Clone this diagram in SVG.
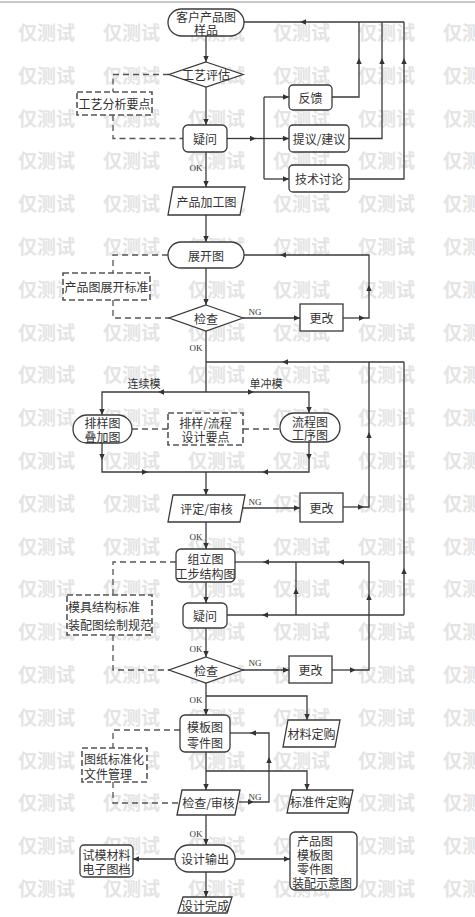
<svg xmlns="http://www.w3.org/2000/svg" width="475" height="917" viewBox="0 0 475 917">
<defs>
<marker id="ah" viewBox="0 0 10 10" refX="10" refY="5" markerWidth="7" markerHeight="6" orient="auto" markerUnits="userSpaceOnUse"><path d="M0,0.5 L10,5 L0,9.5 z" fill="#333"/></marker>
<style>
.ln{fill:none;stroke:#3a3a3a;stroke-width:1.3}
.ar{marker-end:url(#ah)}
.ds{fill:none;stroke:#555;stroke-width:1.3;stroke-dasharray:6 4}
.nd{fill:#fff;stroke:#3a3a3a;stroke-width:1.3}
.db{fill:#fff;stroke:#555;stroke-width:1.6;stroke-dasharray:6 3}
.t{font-family:"Noto Sans CJK SC","Noto Sans",sans-serif;font-size:12px;fill:#333;text-anchor:middle;dominant-baseline:central}
.tl{font-family:"Noto Sans CJK SC","Noto Sans",sans-serif;font-size:12px;fill:#333;dominant-baseline:central}
.s{font-family:"Liberation Serif",serif;font-size:9px;fill:#333;text-anchor:middle}
.wm{font-family:"Noto Sans CJK SC",sans-serif;font-size:19px;font-weight:bold;fill:#e4e4e4}
</style>
</defs>
<rect x="0" y="0" width="475" height="917" fill="#fff"/>
<line x1="0" y1="2" x2="475" y2="2" stroke="#c8c8c8" stroke-width="2"/>
<g id="watermark">
<text class="wm" x="18" y="40">仅测试</text><text class="wm" x="103" y="40">仅测试</text><text class="wm" x="188" y="40">仅测试</text><text class="wm" x="273" y="40">仅测试</text><text class="wm" x="358" y="40">仅测试</text><text class="wm" x="443" y="40">仅测试</text>
<text class="wm" x="18" y="83">仅测试</text><text class="wm" x="103" y="83">仅测试</text><text class="wm" x="188" y="83">仅测试</text><text class="wm" x="273" y="83">仅测试</text><text class="wm" x="358" y="83">仅测试</text><text class="wm" x="443" y="83">仅测试</text>
<text class="wm" x="18" y="126">仅测试</text><text class="wm" x="103" y="126">仅测试</text><text class="wm" x="188" y="126">仅测试</text><text class="wm" x="273" y="126">仅测试</text><text class="wm" x="358" y="126">仅测试</text><text class="wm" x="443" y="126">仅测试</text>
<text class="wm" x="18" y="168">仅测试</text><text class="wm" x="103" y="168">仅测试</text><text class="wm" x="188" y="168">仅测试</text><text class="wm" x="273" y="168">仅测试</text><text class="wm" x="358" y="168">仅测试</text><text class="wm" x="443" y="168">仅测试</text>
<text class="wm" x="18" y="211">仅测试</text><text class="wm" x="103" y="211">仅测试</text><text class="wm" x="188" y="211">仅测试</text><text class="wm" x="273" y="211">仅测试</text><text class="wm" x="358" y="211">仅测试</text><text class="wm" x="443" y="211">仅测试</text>
<text class="wm" x="18" y="254">仅测试</text><text class="wm" x="103" y="254">仅测试</text><text class="wm" x="188" y="254">仅测试</text><text class="wm" x="273" y="254">仅测试</text><text class="wm" x="358" y="254">仅测试</text><text class="wm" x="443" y="254">仅测试</text>
<text class="wm" x="18" y="297">仅测试</text><text class="wm" x="103" y="297">仅测试</text><text class="wm" x="188" y="297">仅测试</text><text class="wm" x="273" y="297">仅测试</text><text class="wm" x="358" y="297">仅测试</text><text class="wm" x="443" y="297">仅测试</text>
<text class="wm" x="18" y="340">仅测试</text><text class="wm" x="103" y="340">仅测试</text><text class="wm" x="188" y="340">仅测试</text><text class="wm" x="273" y="340">仅测试</text><text class="wm" x="358" y="340">仅测试</text><text class="wm" x="443" y="340">仅测试</text>
<text class="wm" x="18" y="382">仅测试</text><text class="wm" x="103" y="382">仅测试</text><text class="wm" x="188" y="382">仅测试</text><text class="wm" x="273" y="382">仅测试</text><text class="wm" x="358" y="382">仅测试</text><text class="wm" x="443" y="382">仅测试</text>
<text class="wm" x="18" y="425">仅测试</text><text class="wm" x="103" y="425">仅测试</text><text class="wm" x="188" y="425">仅测试</text><text class="wm" x="273" y="425">仅测试</text><text class="wm" x="358" y="425">仅测试</text><text class="wm" x="443" y="425">仅测试</text>
<text class="wm" x="18" y="468">仅测试</text><text class="wm" x="103" y="468">仅测试</text><text class="wm" x="188" y="468">仅测试</text><text class="wm" x="273" y="468">仅测试</text><text class="wm" x="358" y="468">仅测试</text><text class="wm" x="443" y="468">仅测试</text>
<text class="wm" x="18" y="511">仅测试</text><text class="wm" x="103" y="511">仅测试</text><text class="wm" x="188" y="511">仅测试</text><text class="wm" x="273" y="511">仅测试</text><text class="wm" x="358" y="511">仅测试</text><text class="wm" x="443" y="511">仅测试</text>
<text class="wm" x="18" y="554">仅测试</text><text class="wm" x="103" y="554">仅测试</text><text class="wm" x="188" y="554">仅测试</text><text class="wm" x="273" y="554">仅测试</text><text class="wm" x="358" y="554">仅测试</text><text class="wm" x="443" y="554">仅测试</text>
<text class="wm" x="18" y="596">仅测试</text><text class="wm" x="103" y="596">仅测试</text><text class="wm" x="188" y="596">仅测试</text><text class="wm" x="273" y="596">仅测试</text><text class="wm" x="358" y="596">仅测试</text><text class="wm" x="443" y="596">仅测试</text>
<text class="wm" x="18" y="639">仅测试</text><text class="wm" x="103" y="639">仅测试</text><text class="wm" x="188" y="639">仅测试</text><text class="wm" x="273" y="639">仅测试</text><text class="wm" x="358" y="639">仅测试</text><text class="wm" x="443" y="639">仅测试</text>
<text class="wm" x="18" y="682">仅测试</text><text class="wm" x="103" y="682">仅测试</text><text class="wm" x="188" y="682">仅测试</text><text class="wm" x="273" y="682">仅测试</text><text class="wm" x="358" y="682">仅测试</text><text class="wm" x="443" y="682">仅测试</text>
<text class="wm" x="18" y="725">仅测试</text><text class="wm" x="103" y="725">仅测试</text><text class="wm" x="188" y="725">仅测试</text><text class="wm" x="273" y="725">仅测试</text><text class="wm" x="358" y="725">仅测试</text><text class="wm" x="443" y="725">仅测试</text>
<text class="wm" x="18" y="768">仅测试</text><text class="wm" x="103" y="768">仅测试</text><text class="wm" x="188" y="768">仅测试</text><text class="wm" x="273" y="768">仅测试</text><text class="wm" x="358" y="768">仅测试</text><text class="wm" x="443" y="768">仅测试</text>
<text class="wm" x="18" y="810">仅测试</text><text class="wm" x="103" y="810">仅测试</text><text class="wm" x="188" y="810">仅测试</text><text class="wm" x="273" y="810">仅测试</text><text class="wm" x="358" y="810">仅测试</text><text class="wm" x="443" y="810">仅测试</text>
<text class="wm" x="18" y="853">仅测试</text><text class="wm" x="103" y="853">仅测试</text><text class="wm" x="188" y="853">仅测试</text><text class="wm" x="273" y="853">仅测试</text><text class="wm" x="358" y="853">仅测试</text><text class="wm" x="443" y="853">仅测试</text>
<text class="wm" x="18" y="896">仅测试</text><text class="wm" x="103" y="896">仅测试</text><text class="wm" x="188" y="896">仅测试</text><text class="wm" x="273" y="896">仅测试</text><text class="wm" x="358" y="896">仅测试</text><text class="wm" x="443" y="896">仅测试</text>
</g>
<g id="connectors">
<path class="ln ar" d="M206,36 V62"/>
<path class="ln ar" d="M206,87 V125"/>
<path class="ln ar" d="M206,152 V187"/>
<path class="ln ar" d="M227,138.5 H256"/><path class="ln" d="M256,138.5 H264"/>
<path class="ln" d="M264,97 V179"/>
<path class="ln ar" d="M264,97 H289"/><path class="ln ar" d="M264,138.5 H289"/><path class="ln ar" d="M264,179 H289"/>
<path class="ln ar" d="M332,97 H359 V58"/><path class="ln" d="M359,58 V22"/>
<path class="ln ar" d="M349,138.5 H382 V58"/><path class="ln" d="M382,58 V22"/>
<path class="ln ar" d="M349,179 H404 V58"/><path class="ln" d="M404,58 V22"/>
<path class="ln ar" d="M404,22 H300"/><path class="ln" d="M300,22 H244"/>
<path class="ln ar" d="M206,215 V242"/>
<path class="ln ar" d="M206,268 V305"/>
<path class="ln ar" d="M243,318 H300"/>
<path class="ln ar" d="M343,318 H365"/><path class="ln ar" d="M365,318 H369 V285"/><path class="ln ar" d="M369,285 V255 H280"/><path class="ln" d="M280,255 H244"/>
<path class="ln" d="M206,331 V392"/>
<path class="ln ar" d="M404,362 H282"/><path class="ln" d="M282,362 H206"/>
<path class="ln ar" d="M206,392 H158"/><path class="ln ar" d="M158,392 H102 V415"/>
<path class="ln ar" d="M206,392 H254"/><path class="ln ar" d="M254,392 H309 V413"/>
<path class="ln ar" d="M102,443 V460"/><path class="ln ar" d="M102,460 V472 H148"/><path class="ln" d="M148,472 H206"/>
<path class="ln ar" d="M309,442 V460"/><path class="ln ar" d="M309,460 V472 H262"/><path class="ln" d="M262,472 H206"/>
<path class="ln ar" d="M206,472 V495"/>
<path class="ln ar" d="M243,508 H300"/>
<path class="ln ar" d="M343,507 H364"/><path class="ln ar" d="M364,507 H369 V432"/><path class="ln" d="M369,432 V362"/>
<path class="ln ar" d="M206,522 V549"/>
<path class="ln ar" d="M206,582 V603"/>
<path class="ln ar" d="M206,628 V657"/>
<path class="ln ar" d="M243,670 H289"/>
<path class="ln ar" d="M332,670 H356"/><path class="ln ar" d="M356,670 H369 V594"/><path class="ln ar" d="M369,594 V562 H338"/><path class="ln ar" d="M338,562 H263"/><path class="ln" d="M263,562 H235"/>
<path class="ln ar" d="M296,615 V588"/><path class="ln" d="M296,588 V562"/>
<path class="ln ar" d="M404,615 H262"/><path class="ln" d="M262,615 H227"/>
<path class="ln ar" d="M404,615 V568"/><path class="ln" d="M404,568 V362"/>
<path class="ln ar" d="M206,683 V715"/>
<path class="ln ar" d="M206,696 H307 V720"/>
<path class="ln ar" d="M206,752 V790"/>
<path class="ln ar" d="M206,771 H307 V790"/>
<path class="ln ar" d="M239,802 H254"/><path class="ln ar" d="M254,802 H269 V757"/><path class="ln ar" d="M269,757 V733 H250"/><path class="ln" d="M250,733 H230"/>
<path class="ln ar" d="M206,815 V845"/>
<path class="ln ar" d="M175,859 H133"/>
<path class="ln ar" d="M235,859 H290"/>
<path class="ln ar" d="M206,872 V897"/>
<path class="ds" d="M169,74.5 H113 V92"/>
<path class="ds" d="M113,115 V138.5 H183"/>
<path class="ds" d="M168,255 H113 V273"/>
<path class="ds" d="M113,300 V318 H169"/>
<path class="ds" d="M132,429 H168"/>
<path class="ds" d="M243,429 H280"/>
<path class="ds" d="M176,562 H113 V595"/>
<path class="ds" d="M113,635 V670 H169"/>
<path class="ds" d="M180,730 H113 V748"/>
<path class="ds" d="M113,782 V803 H179"/>
<text class="s" x="196" y="171">OK</text>
<text class="s" x="196" y="351">OK</text>
<text class="s" x="196" y="540">OK</text>
<text class="s" x="196" y="652">OK</text>
<text class="s" x="196" y="703">OK</text>
<text class="s" x="196" y="837">OK</text>
<text class="s" x="255" y="315">NG</text>
<text class="s" x="255" y="505">NG</text>
<text class="s" x="255" y="666">NG</text>
<text class="s" x="255" y="800">NG</text>
<text class="t" x="144" y="383" style="font-size:11px">连续模</text>
<text class="t" x="266" y="383" style="font-size:11px">单冲模</text>
</g>
<g id="n-customer"><rect class="nd" x="168" y="9" width="76" height="27" rx="13.5"/><text class="t" x="206" y="16.5">客户产品图</text><text class="t" x="206" y="29">样品</text></g>
<g id="n-eval"><polygon class="nd" points="206,62 243,74.5 206,87 169,74.5"/><text class="t" x="206" y="74.5">工艺评估</text></g>
<g id="n-keypoints"><rect class="db" x="77" y="92" width="75" height="23"/><text class="t" x="114.5" y="103.5">工艺分析要点</text></g>
<g id="n-question1"><rect class="nd" x="183" y="125" width="44" height="27" rx="5"/><text class="t" x="205" y="138.5">疑问</text></g>
<g id="n-feedback"><rect class="nd" x="289" y="85" width="43" height="25" rx="4"/><text class="t" x="310.5" y="97.5">反馈</text></g>
<g id="n-suggest"><rect class="nd" x="289" y="125" width="60" height="27" rx="4"/><text class="t" x="319" y="138.5">提议/建议</text></g>
<g id="n-discuss"><rect class="nd" x="289" y="165" width="60" height="27" rx="4"/><text class="t" x="319" y="178.5">技术讨论</text></g>
<g id="n-procdraw"><polygon class="nd" points="173,187 245,187 240,215 168,215"/><text class="t" x="206.5" y="201">产品加工图</text></g>
<g id="n-unfold"><rect class="nd" x="168" y="242" width="76" height="26" rx="13"/><text class="t" x="206" y="255">展开图</text></g>
<g id="n-unfoldstd"><rect class="db" x="63" y="273" width="87" height="27"/><text class="t" x="106.5" y="286.5">产品图展开标准</text></g>
<g id="n-check1"><polygon class="nd" points="206,305 243,318 206,331 169,318"/><text class="t" x="206" y="318">检查</text></g>
<g id="n-modify1"><rect class="nd" x="300" y="304" width="43" height="27"/><text class="t" x="321.5" y="317.5">更改</text></g>
<g id="n-layout"><rect class="nd" x="73" y="415" width="59" height="28" rx="14"/><text class="t" x="102.5" y="422.5">排样图</text><text class="t" x="102.5" y="436">叠加图</text></g>
<g id="n-layoutkey"><rect class="db" x="168" y="413" width="75" height="32"/><text class="t" x="205.5" y="422">排样/流程</text><text class="t" x="205.5" y="436">设计要点</text></g>
<g id="n-flow"><rect class="nd" x="280" y="413" width="60" height="29" rx="14.5"/><text class="t" x="310" y="421">流程图</text><text class="t" x="310" y="434.5">工序图</text></g>
<g id="n-review1"><polygon class="nd" points="173,495 245,495 240,522 168,522"/><text class="t" x="206.5" y="508.5">评定/审核</text></g>
<g id="n-modify2"><rect class="nd" x="300" y="493" width="43" height="29"/><text class="t" x="321.5" y="507.5">更改</text></g>
<g id="n-assembly"><rect class="nd" x="176" y="549" width="59" height="33" rx="5"/><text class="t" x="205.5" y="558">组立图</text><text class="t" x="205.5" y="573">工步结构图</text></g>
<g id="n-moldstd"><rect class="db" x="67" y="595" width="85" height="40"/><text class="tl" x="68" y="606">模具结构标准</text><text class="tl" x="68" y="624">装配图绘制规范</text></g>
<g id="n-question2"><rect class="nd" x="183" y="603" width="44" height="25" rx="5"/><text class="t" x="205" y="615.5">疑问</text></g>
<g id="n-check2"><polygon class="nd" points="206,657 243,670 206,683 169,670"/><text class="t" x="206" y="670">检查</text></g>
<g id="n-modify3"><rect class="nd" x="289" y="656" width="43" height="27"/><text class="t" x="310.5" y="669.5">更改</text></g>
<g id="n-material"><polygon class="nd" points="288,720 340,720 335,747 283,747"/><text class="t" x="311.5" y="733.5">材料定购</text></g>
<g id="n-template"><rect class="nd" x="180" y="715" width="50" height="37" rx="5"/><text class="t" x="205" y="726">模板图</text><text class="t" x="205" y="742">零件图</text></g>
<g id="n-filestd"><rect class="db" x="82" y="748" width="65" height="34"/><text class="tl" x="84" y="758">图纸标准化</text><text class="tl" x="84" y="773">文件管理</text></g>
<g id="n-review2"><polygon class="nd" points="182,790 240,790 235,815 177,815"/><text class="t" x="208.5" y="802.5">检查/审核</text></g>
<g id="n-stdpart"><polygon class="nd" points="292,790 353,790 348,813 287,813"/><text class="t" x="320" y="801.5">标准件定购</text></g>
<g id="n-output"><rect class="nd" x="175" y="845" width="60" height="27" rx="13.5"/><text class="t" x="205" y="858.5">设计输出</text></g>
<g id="n-trial"><rect class="nd" x="80" y="845" width="53" height="32" rx="4"/><text class="t" x="106.5" y="854">试模材料</text><text class="t" x="106.5" y="868.5">电子图档</text></g>
<g id="n-drawings"><rect class="nd" x="290" y="832" width="67" height="58" rx="5"/><text class="tl" x="297" y="840">产品图</text><text class="tl" x="297" y="854">模板图</text><text class="tl" x="297" y="868">零件图</text><text class="tl" x="292" y="882">装配示意图</text></g>
<g id="n-done"><polygon class="nd" points="183,897 232,897 227,913 178,913"/><text class="t" x="205" y="905">设计完成</text></g>
</svg>
